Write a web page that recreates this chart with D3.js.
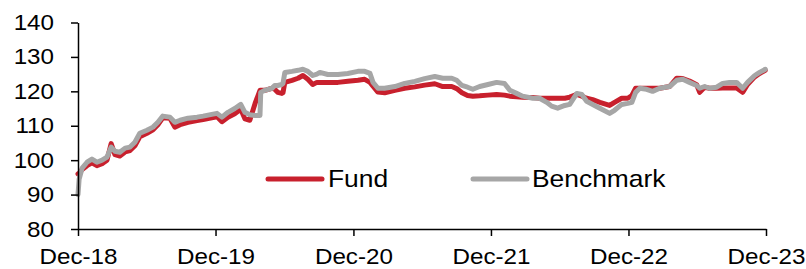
<!DOCTYPE html>
<html>
<head>
<meta charset="utf-8">
<script src="https://cdn.jsdelivr.net/npm/d3@7"></script>
<style>
  body { margin: 0; background: #fff; }
  svg { display: block; font-family: "Liberation Sans", Arial, sans-serif; }
</style>
</head>
<body>
<div id="chart"></div>
<script>
// Observation dates (shared by both series).
const dates = [
  "2018-12-31","2019-01-03","2019-01-11","2019-01-24","2019-02-06","2019-02-19","2019-03-05","2019-03-18",
  "2019-03-29","2019-04-08","2019-04-21","2019-05-05","2019-05-18","2019-05-31","2019-06-13","2019-07-02",
  "2019-07-18","2019-07-31","2019-08-13","2019-09-01","2019-09-14","2019-09-28","2019-10-19","2019-11-12",
  "2019-11-28","2019-12-21","2020-01-04","2020-01-17","2020-02-02","2020-02-20","2020-03-07","2020-03-18",
  "2020-03-31","2020-04-14","2020-04-27","2020-04-29","2020-05-10","2020-05-29","2020-06-05","2020-06-13",
  "2020-06-24","2020-06-27","2020-07-02","2020-07-21","2020-08-06","2020-08-19","2020-09-01","2020-09-14",
  "2020-09-25","2020-10-03","2020-10-24","2020-11-20","2020-12-16","2021-01-12","2021-01-30","2021-02-13",
  "2021-02-21","2021-03-06","2021-03-24","2021-04-20","2021-05-16","2021-06-12","2021-07-08","2021-08-04",
  "2021-08-25","2021-09-18","2021-10-01","2021-10-15","2021-10-30","2021-11-13","2021-12-01","2021-12-23",
  "2022-01-15","2022-02-05","2022-02-19","2022-03-09","2022-03-25","2022-04-21","2022-05-09","2022-05-28",
  "2022-06-10","2022-06-26","2022-07-15","2022-07-28","2022-08-16","2022-08-29","2022-09-11","2022-09-27",
  "2022-10-16","2022-11-11","2022-11-24","2022-12-13","2022-12-29","2023-01-09","2023-01-19","2023-01-30",
  "2023-02-17","2023-03-05","2023-03-24","2023-04-19","2023-05-08","2023-05-24","2023-06-11","2023-06-30",
  "2023-07-08","2023-07-21","2023-08-03","2023-08-22","2023-09-07","2023-09-25","2023-10-14","2023-10-30",
  "2023-11-12","2023-12-01","2023-12-14","2023-12-29"
];

const fund = [
  96.0, 96.2, 97.3, 98.4, 99.2, 98.4, 99.0, 100.0,
  104.8, 101.6, 101.2, 102.4, 102.8, 104.2, 106.8, 107.8,
  108.8, 110.3, 112.3, 112.2, 109.6, 110.3, 111.0, 111.5,
  111.8, 112.3, 112.6, 111.2, 112.5, 113.5, 114.8, 112.0,
  111.6, 116.5, 120.3, 120.3, 120.3, 120.9, 120.6, 119.7,
  119.4, 119.6, 122.6, 123.2, 123.8, 124.6, 123.5, 122.0,
  122.6, 122.6, 122.6, 122.6, 122.9, 123.2, 123.5, 122.6,
  121.5, 119.8, 119.6, 120.3, 120.9, 121.3, 121.8, 122.2,
  121.4, 121.4, 120.8, 119.6, 118.8, 118.6, 118.7, 118.9,
  119.1, 118.9, 118.6, 118.4, 118.3, 118.2, 118.0, 118.0,
  118.0, 118.0, 118.0, 118.3, 119.1, 118.6, 118.0, 117.6,
  116.8, 115.9, 116.8, 118.0, 118.0, 118.8, 120.9, 120.9,
  120.9, 120.9, 120.9, 121.4, 123.8, 123.7, 123.0, 121.9,
  119.7, 121.2, 120.9, 120.9, 121.0, 121.0, 121.0, 119.7,
  122.0, 124.2, 125.2, 126.1
];

const benchmark = [
  90.0, 94.5, 97.7, 99.4, 100.3, 99.4, 100.0, 100.9,
  103.8, 102.6, 102.3, 103.5, 103.8, 105.2, 107.8, 108.7,
  109.6, 111.0, 112.8, 112.5, 111.0, 111.6, 112.2, 112.5,
  112.8, 113.3, 113.6, 112.5, 113.9, 115.0, 116.2, 113.9,
  113.2, 113.0, 113.0, 119.7, 120.3, 120.9, 121.7, 121.7,
  122.0, 122.3, 125.5, 125.8, 126.1, 126.4, 125.8, 124.6,
  125.0, 125.5, 124.9, 124.9, 125.2, 125.8, 125.8, 125.2,
  122.6, 120.9, 120.9, 121.4, 122.3, 122.9, 123.7, 124.3,
  123.8, 123.8, 123.2, 121.7, 121.2, 120.6, 121.4, 122.0,
  122.6, 122.3, 120.3, 119.4, 118.6, 118.0, 118.0, 116.8,
  115.7, 115.1, 115.9, 116.2, 119.4, 119.1, 117.1, 116.2,
  115.1, 113.6, 114.5, 116.2, 116.5, 116.8, 119.7, 120.9,
  120.6, 120.0, 120.9, 121.4, 123.2, 123.5, 122.6, 121.7,
  120.9, 121.4, 120.9, 121.2, 122.3, 122.6, 122.6, 120.9,
  122.6, 124.6, 125.5, 126.4
];

const xTicks = ["2018-12-31","2019-12-31","2020-12-31","2021-12-31","2022-12-31","2023-12-31"];
const yTicks = [80, 90, 100, 110, 120, 130, 140];
const seriesNames = ["Fund", "Benchmark"];
const seriesColors = ["#C8202D", "#A6A6A6"];

const width = 806, height = 269;
const margin = { top: 22.5, right: 40, bottom: 40, left: 78 };
const stretch = 1.1;   // glyphs in the reference are a bit wide

const parse = d3.timeParse("%Y-%m-%d");
const fmt = d3.timeFormat("%b-%y");

const svg = d3.select("#chart").append("svg")
  .attr("width", width)
  .attr("height", height);

const x = d3.scaleTime()
  .domain([parse(xTicks[0]), parse(xTicks[xTicks.length - 1])])
  .range([margin.left, 766]);

const y = d3.scaleLinear()
  .domain([80, 140])
  .range([229, margin.top]);

// Lines: fund first so the benchmark sits on top.
const line = d3.line()
  .x(d => x(d.date))
  .y(d => y(d.value));

[fund, benchmark].forEach((vals, k) => {
  const data = dates.map((d, i) => ({ date: parse(d), value: vals[i] }));
  svg.append("path")
    .datum(data)
    .attr("fill", "none")
    .attr("stroke", seriesColors[k])
    .attr("stroke-width", 5)
    .attr("stroke-linejoin", "round")
    .attr("stroke-linecap", "round")
    .attr("d", line);
});

// Y axis.
svg.append("g")
  .attr("transform", `translate(${margin.left},0)`)
  .call(d3.axisLeft(y).tickValues(yTicks).tickSize(7).tickSizeOuter(0))
  .call(g => {
    g.select(".domain").attr("stroke", "#000").attr("stroke-width", 1.5);
    g.selectAll(".tick line").attr("stroke", "#000").attr("stroke-width", 1.5);
    g.selectAll(".tick text")
      .attr("x", -24 / stretch)
      .attr("transform", `scale(${stretch},1)`)
      .attr("font-size", 22)
      .attr("font-family", "Liberation Sans, Arial, sans-serif")
      .attr("fill", "#000");
  });

// X axis.
svg.append("g")
  .attr("transform", `translate(0,229)`)
  .call(d3.axisBottom(x).tickValues(xTicks.map(parse)).tickFormat(fmt).tickSize(7).tickPadding(12).tickSizeOuter(0))
  .call(g => {
    g.select(".domain").attr("stroke", "#000").attr("stroke-width", 1.5);
    g.selectAll(".tick line").attr("stroke", "#000").attr("stroke-width", 1.5);
    g.selectAll(".tick text")
      .attr("transform", `scale(${stretch},1)`)
      .attr("font-size", 22)
      .attr("font-family", "Liberation Sans, Arial, sans-serif")
      .attr("fill", "#000");
  });

// Legend.
const legendPos = [{ x1: 268, x2: 322, tx: 328 }, { x1: 473, x2: 527, tx: 532 }];
seriesNames.forEach((name, k) => {
  const p = legendPos[k];
  svg.append("line")
    .attr("x1", p.x1).attr("x2", p.x2)
    .attr("y1", 179).attr("y2", 179)
    .attr("stroke", seriesColors[k])
    .attr("stroke-width", 5)
    .attr("stroke-linecap", "round");
  svg.append("text")
    .attr("transform", `translate(${p.tx},187) scale(${stretch},1)`)
    .attr("font-size", 24)
    .attr("fill", "#000")
    .text(name);
});
</script>
</body>
</html>
